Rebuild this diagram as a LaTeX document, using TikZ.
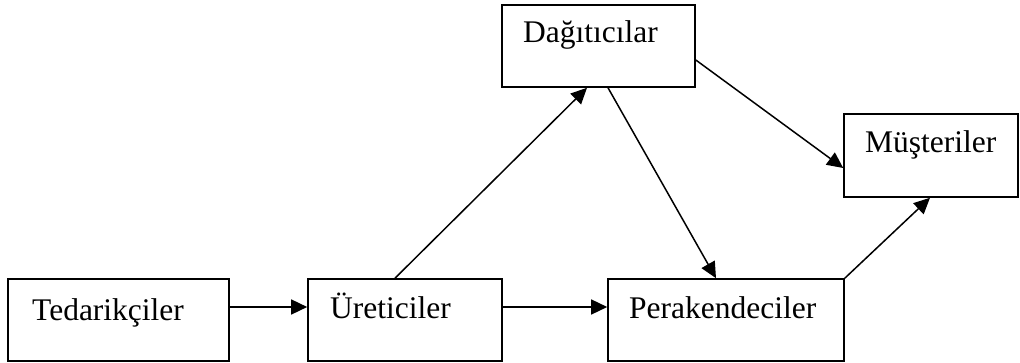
\documentclass[tikz,border=0pt]{standalone}
\usepackage{fontspec}
\setmainfont{Liberation Serif}
\usetikzlibrary{arrows.meta}
\begin{document}
\begin{tikzpicture}[x=1pt,y=-1pt,
  box/.style={draw,line width=1.6pt,inner sep=0pt,minimum height=82pt},
  lbl/.style={anchor=base west,inner sep=0pt,font=\fontsize{31.5}{36}\selectfont},
  arr/.style={line width=1.5pt,-{Triangle[length=16pt,width=15pt]}},
  ln/.style={line width=1.5pt}]
\useasboundingbox (0,0) rectangle (1020,363);
\node[box,minimum width=221pt] (ted) at (118.5,320) {};
\node[box,minimum width=194pt] (ure) at (405,320) {};
\node[box,minimum width=236pt] (per) at (726,320) {};
\node[box,minimum width=193pt] (dag) at (598.5,46) {};
\node[box,minimum width=174pt,minimum height=83pt] (mus) at (931,155.5) {};
\node[lbl] (tedt) at (32,320) {Tedarikçiler};
\node[lbl] (uret) at (330,319) {Üreticiler};
\node[lbl] (pert) at (629,319) {Perakendeciler};
\node[lbl] (dagt) at (523,43) {Dağıtıcılar};
\node[lbl] (must) at (865,153) {Müşteriler};
\draw[arr] ([yshift=13pt]ted.east) -- ([yshift=13pt]ure.west);
\draw[arr] ([yshift=13pt]ure.east) -- ([yshift=13pt]per.west);
\draw[arr] ([xshift=-10pt]ure.north) -- ([xshift=-11.5pt]dag.south);
\draw[arr] ([xshift=9.5pt]dag.south) -- ([xshift=-10pt]per.north);
\draw[arr] ([yshift=-14pt]dag.east) -- ([yshift=-12.5pt]mus.west);
\draw[arr] (per.north east) -- ([xshift=-1pt]mus.south);
\end{tikzpicture}
\end{document}
